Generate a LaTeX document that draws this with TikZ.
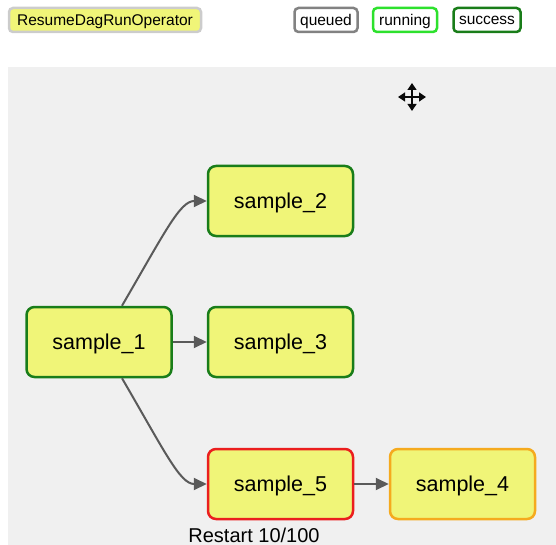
\documentclass[tikz,border=0pt]{standalone}
\usepackage{fontspec}
\setmainfont{Liberation Sans}
\usetikzlibrary{arrows.meta}
\definecolor{taskfill}{RGB}{240,245,120}
\definecolor{panelgray}{RGB}{240,240,240}
\definecolor{successgreen}{RGB}{25,125,25}
\definecolor{runninglime}{RGB}{45,225,45}
\definecolor{queuedgray}{RGB}{130,130,130}
\definecolor{failedred}{RGB}{235,30,30}
\definecolor{retryorange}{RGB}{245,170,30}
\definecolor{edgegray}{RGB}{90,90,90}
\begin{document}
\begin{tikzpicture}[x=1pt,y=-1pt,
  task/.style={draw=successgreen,fill=taskfill,line width=2.5pt,rounded corners=8pt,
    minimum width=145pt,minimum height=70pt,inner sep=0pt,text depth=0pt,
    font=\fontsize{21.5}{24}\selectfont},
  legend/.style={draw,fill=white,line width=2.5pt,rounded corners=4pt,minimum height=24pt,
    inner sep=0pt,text depth=0pt,font=\fontsize{15.5}{17}\selectfont},
  dep/.style={draw=edgegray,line width=2pt,-{Triangle[length=13pt,width=12pt]}}]
\useasboundingbox (0,0) rectangle (556,545);
\clip (0,0) rectangle (556,545);
\fill[panelgray] (8,67) rectangle (556,545);
\begin{scope}
\node[legend,draw=black!20,fill=taskfill,minimum width=192pt] (op) at (105,20) {ResumeDagRunOperator};
\node[legend,draw=queuedgray,minimum width=63pt] (queued) at (326,20) {queued};
\node[legend,draw=runninglime,minimum width=64pt] (running) at (405,20) {running};
\node[legend,draw=successgreen,minimum width=67pt] (success) at (487,20) {success};
\end{scope}
\begin{scope}[edgegray!10!black,line width=1.3pt]
\draw[{Triangle[length=7pt,width=9pt]}-{Triangle[length=7pt,width=9pt]}] (412,83) -- (412,111);
\draw[{Triangle[length=7pt,width=9pt]}-{Triangle[length=7pt,width=9pt]}] (398,97) -- (426,97);
\end{scope}
\begin{scope}
\node[task] (s1) at (99,342) {sample\_1};
\node[task] (s2) at (280.5,201) {sample\_2};
\node[task] (s3) at (280.5,342) {sample\_3};
\node[task,draw=failedred] (s5) at (280.5,484) {sample\_5};
\node[task,draw=retryorange] (s4) at (462.5,484) {sample\_4};
\node[font=\fontsize{20}{22}\selectfont,anchor=base] (restart) at (254,542) {Restart 10/100};
\draw[dep] ([xshift=23pt]s1.north) .. controls (165,232) and (180,201) .. (s2.west);
\draw[dep] (s1.east) -- (s3.west);
\draw[dep] ([xshift=23pt]s1.south) .. controls (165,452) and (180,484) .. (s5.west);
\draw[dep] (s5.east) -- (s4.west);
\end{scope}
\end{tikzpicture}
\end{document}
